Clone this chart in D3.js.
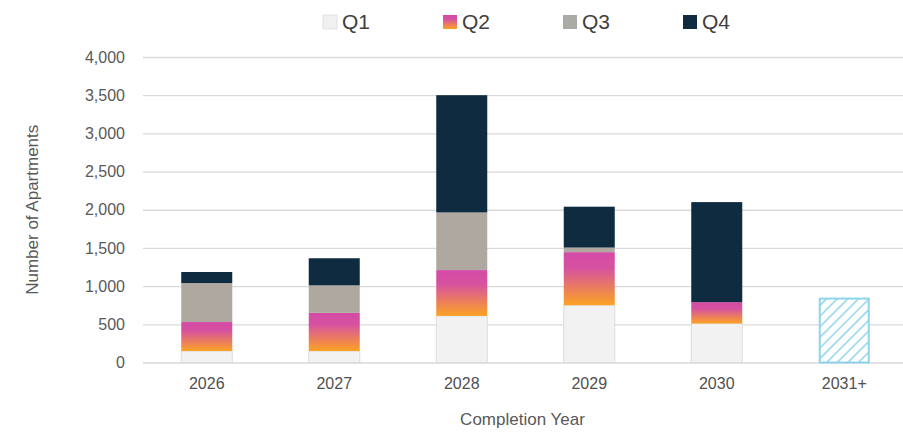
<!DOCTYPE html>
<html>
<head>
<meta charset="utf-8">
<script src="https://cdn.jsdelivr.net/npm/d3@7"></script>
<style>
  body { margin: 0; background: #fff; }
  text { font-family: "Liberation Sans", Arial, sans-serif; }
</style>
</head>
<body>
<svg id="chart" width="903" height="433"></svg>
<script>
const years = ['2026', '2027', '2028', '2029', '2030', '2031+']
const quarters = ['Q1', 'Q2', 'Q3', 'Q4']
const q1 = [150, 150, 610, 750, 510, 0]
const q2 = [380, 500, 600, 695, 280, 0]
const q3 = [510, 360, 755, 60, 0, 0]
const q4 = [145, 355, 1535, 535, 1310, 0]
const future = [0, 0, 0, 0, 0, 850]
const yTicks = [0, 500, 1000, 1500, 2000, 2500, 3000, 3500, 4000]

const svg = d3.select('#chart')
const plotLeft = 143, plotRight = 908, plotTop = 57, plotBottom = 362.5
const textColor = '#595959'

const defs = svg.append('defs')
const grad = defs.append('linearGradient')
  .attr('id', 'q2grad').attr('x1', 0).attr('y1', 0).attr('x2', 0).attr('y2', 1)
grad.append('stop').attr('offset', '0%').attr('stop-color', '#d44aa6')
grad.append('stop').attr('offset', '30%').attr('stop-color', '#d652a0')
grad.append('stop').attr('offset', '100%').attr('stop-color', '#fca324')

// diagonal hatch for the 2031+ estimate
const hatch = defs.append('pattern')
  .attr('id', 'hatch').attr('patternUnits', 'userSpaceOnUse')
  .attr('width', 7.5).attr('height', 7.5)
  .attr('patternTransform', 'rotate(45)')
hatch.append('rect').attr('width', 7.5).attr('height', 7.5).attr('fill', '#fff')
hatch.append('line').attr('x1', 0).attr('y1', 0).attr('x2', 0).attr('y2', 7.5)
  .attr('stroke', '#8fd4ec').attr('stroke-width', 3)

const fills = { Q1: '#f2f2f2', Q2: 'url(#q2grad)', Q3: '#aea8a0', Q4: '#0e2b3f' }
const legendFills = { Q1: '#f0f0f0', Q2: 'url(#q2grad)', Q3: '#aaaaa6', Q4: '#0e2b3f' }

const x = d3.scaleBand().domain(years).range([plotLeft, plotRight]).paddingInner(0.6).paddingOuter(0.3)
const y = d3.scaleLinear().domain([0, 4000]).range([plotBottom, plotTop])

// gridlines + y labels
const yAxis = d3.axisLeft(y).tickValues(yTicks).tickFormat(d3.format(',')).tickSize(-(903 - plotLeft)).tickPadding(18)
const yg = svg.append('g').attr('transform', `translate(${plotLeft},0)`).call(yAxis)
yg.select('.domain').remove()
yg.selectAll('.tick line').attr('stroke', '#d9d9d9').attr('stroke-width', 1.3)
yg.selectAll('.tick text').attr('fill', textColor).style('font-size', '16px')

const table = years.map((yr, i) => ({ year: yr, Q1: q1[i], Q2: q2[i], Q3: q3[i], Q4: q4[i] }))
const stacked = d3.stack().keys(quarters)(table)

svg.append('g').selectAll('g')
  .data(stacked)
  .enter().append('g')
  .attr('fill', d => fills[d.key])
  .attr('stroke', d => d.key === 'Q1' ? '#dcdcdc' : 'none')
  .selectAll('rect')
  .data(d => d.filter(s => s[1] - s[0] > 0))
  .enter().append('rect')
  .attr('x', d => x(d.data.year))
  .attr('width', x.bandwidth())
  .attr('y', d => y(d[1]))
  .attr('height', d => y(d[0]) - y(d[1]))

svg.append('g').selectAll('rect')
  .data(years.map((yr, i) => ({ year: yr, v: future[i] })).filter(d => d.v > 0))
  .enter().append('rect')
  .attr('x', d => x(d.year) + 1)
  .attr('width', x.bandwidth() - 2)
  .attr('y', d => y(d.v) + 1)
  .attr('height', d => y(0) - y(d.v) - 1)
  .attr('fill', 'url(#hatch)')
  .attr('stroke', '#8fd4ec')
  .attr('stroke-width', 2)

// x labels
const xAxis = d3.axisBottom(x).tickSize(0).tickPadding(15)
const xg = svg.append('g').attr('transform', `translate(0,${plotBottom})`).call(xAxis)
xg.select('.domain').remove()
xg.selectAll('.tick text').attr('fill', '#505050')
  .style('font-size', '16px')

svg.append('text')
  .attr('x', (plotLeft + plotRight) / 2 - 3).attr('y', 425)
  .attr('text-anchor', 'middle')
  .attr('fill', textColor)
  .style('font-size', '17px')
  .text('Completion Year')

svg.append('text')
  .attr('transform', `translate(38,${(plotTop + plotBottom) / 2}) rotate(-90)`)
  .attr('text-anchor', 'middle')
  .attr('fill', textColor)
  .style('font-size', '17px')
  .text('Number of Apartments')

// legend
const legend = svg.append('g').selectAll('g')
  .data(quarters)
  .enter().append('g')
  .attr('transform', (d, i) => `translate(${323 + i * 120},15)`)
legend.append('rect').attr('width', 14).attr('height', 14)
  .attr('fill', d => legendFills[d])
  .attr('stroke', d => d === 'Q1' ? '#e2e2e2' : 'none')
legend.append('text').attr('x', 19).attr('y', 14)
  .attr('fill', '#404040')
  .style('font-size', '21px')
  .text(d => d)
</script>
</body>
</html>
